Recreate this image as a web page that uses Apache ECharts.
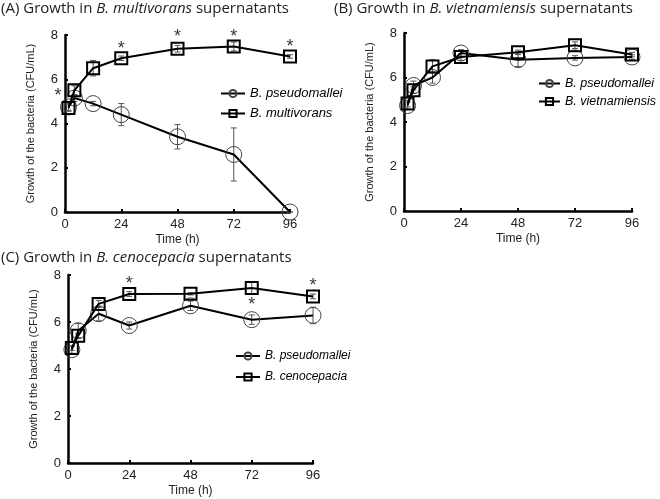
<!DOCTYPE html>
<html>
<head>
<meta charset="utf-8">
<script src="https://cdn.jsdelivr.net/npm/echarts@6/dist/echarts.min.js"></script>
<style>
  html, body { margin: 0; padding: 0; background: #fff; }
  #main { width: 660px; height: 499px; }
</style>
</head>
<body>
<div id="main"></div>
<script>
// sampling times (h)
const times = [1.5, 4, 12, 24, 48, 72, 96];

// panel A: B. multivorans supernatants
const aPseudo = [4.75, 5.15, 4.9, 4.4, 3.4, 2.6, 0];
const aPseudoSd = [0.15, 0.15, 0.1, 0.5, 0.55, 1.2, 0];
const aMulti = [4.7, 5.5, 6.5, 6.95, 7.38, 7.48, 7.03];
const aMultiSd = [0.15, 0.2, 0.35, 0.1, 0.15, 0.2, 0.08];
const aStars = [[-3, 5.4], [24, 7.55], [48, 8.1], [72, 8.1], [96, 7.65]];

// panel B: B. vietnamiensis supernatants
const bPseudo = [4.74, 5.64, 6.0, 7.1, 6.8, 6.88, 6.92];
const bPseudoSd = [0.15, 0.2, 0.25, 0.15, 0.3, 0.1, 0.1];
const bViet = [4.83, 5.43, 6.5, 6.92, 7.13, 7.45, 7.03];
const bVietSd = [0.15, 0.15, 0.3, 0.15, 0.1, 0.15, 0.1];

// panel C: B. cenocepacia supernatants
const cPseudo = [4.82, 5.63, 6.35, 5.85, 6.69, 6.1, 6.28];
const cPseudoSd = [0.15, 0.3, 0.3, 0.15, 0.2, 0.2, 0.35];
const cCeno = [4.89, 5.42, 6.77, 7.19, 7.2, 7.45, 7.09];
const cCenoSd = [0.1, 0.1, 0.15, 0.1, 0.05, 0.25, 0.1];
const cStars = [[24, 7.8], [72, 6.88], [96, 7.72]];

const chart = echarts.init(document.getElementById("main"));

const axisFont = "Liberation Sans";
const grids = [
  { left: 65, top: 35, width: 225, height: 177 },
  { left: 404, top: 33, width: 228, height: 178 },
  { left: 68, top: 275, width: 245, height: 188 },
];

function xAxis(i) {
  return {
    type: "value", gridIndex: i, min: 0, max: 96, interval: 24,
    name: "Time (h)", nameLocation: "middle", nameGap: 22,
    nameTextStyle: { fontFamily: axisFont, fontSize: 12, color: "#222" },
    axisLine: { lineStyle: { color: "#000", width: 2.5 } },
    axisTick: { inside: true, length: 3, lineStyle: { color: "#000", width: 2 } },
    axisLabel: { fontFamily: axisFont, fontSize: 13, color: "#222", margin: 6 },
    splitLine: { show: false },
  };
}
function yAxis(i) {
  return {
    type: "value", gridIndex: i, min: 0, max: 8, interval: 2,
    name: "Growth of the bacteria (CFU/mL)", nameLocation: "middle", nameGap: 29,
    nameTextStyle: { fontFamily: axisFont, fontSize: 11, color: "#222" },
    axisLine: { show: true, lineStyle: { color: "#000", width: 2.5 } },
    axisTick: { show: true, inside: true, length: 3, lineStyle: { color: "#000", width: 2 } },
    axisLabel: { fontFamily: axisFont, fontSize: 13, color: "#222", margin: 7 },
    splitLine: { show: false },
  };
}

function pair(arr) { return times.map((t, k) => [t, arr[k]]); }
function errs(arr, sd) { return times.map((t, k) => [t, arr[k] - sd[k], arr[k] + sd[k]]); }

function circleSeries(name, i, arr) {
  return {
    name: name, type: "line", xAxisIndex: i, yAxisIndex: i, data: pair(arr),
    symbol: "circle", symbolSize: 16, z: 3,
    lineStyle: { color: "#000", width: 2 },
    itemStyle: { color: "rgba(255,255,255,0)", borderColor: "#444", borderWidth: 1 },
    emphasis: { disabled: true },
  };
}
function squareSeries(name, i, arr) {
  return {
    name: name, type: "line", xAxisIndex: i, yAxisIndex: i, data: pair(arr),
    symbol: "rect", symbolSize: 12, z: 4,
    lineStyle: { color: "#000", width: 2 },
    itemStyle: { color: "rgba(255,255,255,0)", borderColor: "#000", borderWidth: 2 },
    emphasis: { disabled: true },
  };
}
function errSeries(i, arr, sd) {
  return {
    type: "custom", xAxisIndex: i, yAxisIndex: i, data: errs(arr, sd), z: 2,
    encode: { x: 0, y: [1, 2] }, silent: true,
    renderItem: function (params, api) {
      const x = api.value(0);
      const lo = api.coord([x, api.value(1)]);
      const hi = api.coord([x, api.value(2)]);
      const st = { stroke: "#555", lineWidth: 1 };
      return {
        type: "group",
        children: [
          { type: "line", shape: { x1: lo[0], y1: lo[1], x2: hi[0], y2: hi[1] }, style: st },
          { type: "line", shape: { x1: lo[0] - 3, y1: lo[1], x2: lo[0] + 3, y2: lo[1] }, style: st },
          { type: "line", shape: { x1: hi[0] - 3, y1: hi[1], x2: hi[0] + 3, y2: hi[1] }, style: st },
        ],
      };
    },
  };
}
function starSeries(i, pts) {
  return {
    type: "scatter", xAxisIndex: i, yAxisIndex: i, data: pts, clip: false,
    symbolSize: 1, itemStyle: { color: "transparent" }, silent: true, z: 5,
    label: {
      show: true, position: "inside", formatter: "*", offset: [0, 4],
      fontFamily: axisFont, fontSize: 18, color: "#000",
    },
  };
}

function title(left, top, tag, species) {
  return {
    left: left, top: top, padding: 0,
    text: "{n|" + tag + " Growth in }{i|" + species + "}{n| supernatants}",
    textStyle: {
      rich: {
        n: { fontFamily: "Open Sans", fontSize: 15, fontWeight: "normal", color: "#222" },
        i: { fontFamily: "Open Sans", fontSize: 15, fontWeight: "normal", fontStyle: "italic", color: "#222" },
      },
    },
  };
}
function legend(left, top, names, size, w, gap) {
  return {
    left: left, top: top, orient: "vertical", data: names, padding: 0,
    itemWidth: w, itemHeight: 9, itemGap: gap, selectedMode: false,
    textStyle: { fontFamily: axisFont, fontSize: size, fontStyle: "italic", color: "#000" },
  };
}

const option = {
  animation: false,
  backgroundColor: "#fff",
  title: [
    title(1, 1, "(A)", "B. multivorans"),
    title(334, 1, "(B)", "B. vietnamiensis"),
    title(1, 250, "(C)", "B. cenocepacia"),
  ],
  legend: [
    legend(220, 87, ["B. pseudomallei", "B. multivorans"], 13, 24, 7),
    legend(538, 77, ["B. pseudomallei", "B. vietnamiensis"], 12.5, 21, 5),
    legend(235, 350, ["B. pseudomallei", "B. cenocepacia"], 12, 24, 9),
  ],
  grid: grids,
  xAxis: [xAxis(0), xAxis(1), xAxis(2)],
  yAxis: [yAxis(0), yAxis(1), yAxis(2)],
  series: [
    errSeries(0, aPseudo, aPseudoSd),
    errSeries(0, aMulti, aMultiSd),
    circleSeries("B. pseudomallei", 0, aPseudo),
    squareSeries("B. multivorans", 0, aMulti),
    starSeries(0, aStars),

    errSeries(1, bPseudo, bPseudoSd),
    errSeries(1, bViet, bVietSd),
    circleSeries("B. pseudomallei", 1, bPseudo),
    squareSeries("B. vietnamiensis", 1, bViet),

    errSeries(2, cPseudo, cPseudoSd),
    errSeries(2, cCeno, cCenoSd),
    circleSeries("B. pseudomallei", 2, cPseudo),
    squareSeries("B. cenocepacia", 2, cCeno),
    starSeries(2, cStars),
  ],
};

chart.setOption(option);
</script>
</body>
</html>
